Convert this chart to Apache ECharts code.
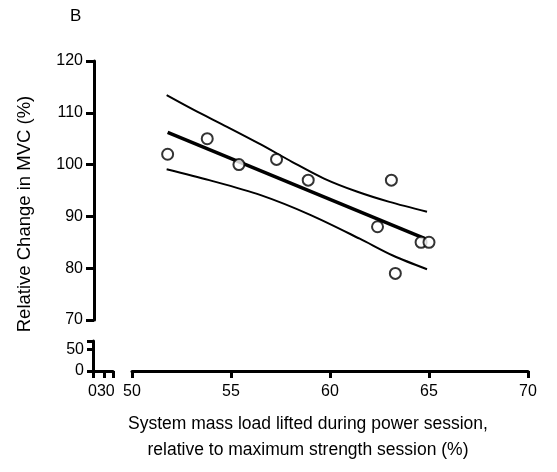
<!DOCTYPE html>
<html>
<head>
<meta charset="utf-8">
<script src="https://cdn.jsdelivr.net/npm/echarts@6/dist/echarts.min.js"></script>
<style>
  html, body { margin: 0; padding: 0; background: #fff; }
  #chart { width: 557px; height: 472px; }
</style>
</head>
<body>
<div id="chart"></div>
<script>
// measured points
const pointX = [51.8, 53.8, 55.4, 57.3, 58.9, 63.1, 62.4, 63.3, 64.6, 65.0];
const pointY = [102, 105, 100, 101, 97, 97, 88, 79, 85, 85];

// regression line and 95% bands
const fitX = [51.8, 64.8];
const fitY = [106.2, 85.7];
const upperX = [51.75, 53.1, 54.8, 56.5, 58.1, 59.7, 61.35, 63.0, 64.9];
const upperY = [113.4, 110.6, 107.3, 103.9, 100.5, 97.3, 94.8, 92.8, 90.9];
const lowerX = [51.75, 53.9, 56.5, 59.0, 61.5, 63.2, 64.9];
const lowerY = [99.1, 97.0, 94.1, 90.3, 85.7, 82.4, 79.8];

// ticks of the short broken-off axis pieces near the origin
const lowXTicks = [0, 30, 53];
const lowYTicks = [0, 50, 70];
const lowYLabels = [0, 50];

const font = "'Liberation Sans', Arial, sans-serif";
const black = "#000";

const zip = (xs, ys) => xs.map((x, i) => [x, ys[i]]);

const chart = echarts.init(document.getElementById("chart"));

const axisCommon = {
  type: "value",
  axisLine: { show: true, onZero: false, lineStyle: { color: black, width: 3 } },
  axisTick: { show: true, length: 7, lineStyle: { color: black, width: 3 } },
  splitLine: { show: false },
  axisLabel: { color: black, fontSize: 16, fontFamily: font, hideOverlap: false },
};

// "0" and "30" sit so close that ECharts drops one of them, so each
// gets its own axis on the small grid
const lowXAxis = (labelValue, withLine, pad) => ({
  ...axisCommon,
  gridIndex: 1,
  position: "bottom",
  min: 0,
  max: 53,
  axisLine: { ...axisCommon.axisLine, show: withLine },
  axisTick: { ...axisCommon.axisTick, show: withLine, customValues: lowXTicks },
  axisLabel: {
    ...axisCommon.axisLabel,
    margin: 13,
    padding: pad,
    customValues: [labelValue],
    showMinLabel: true,
    showMaxLabel: true,
  },
});

chart.setOption({
  animation: false,
  grid: [
    { left: 132, top: 61, width: 396, height: 259 },
    { left: 93, top: 341, width: 20, height: 30 },
  ],
  xAxis: [
    {
      ...axisCommon,
      gridIndex: 0,
      min: 50,
      max: 70,
      interval: 5,
      offset: 51,
      axisLabel: { ...axisCommon.axisLabel, margin: 13 },
    },
    lowXAxis(0, true, [0, 1, 0, 0]),
    lowXAxis(30, false, [0, 0, 0, 3]),
  ],
  yAxis: [
    {
      ...axisCommon,
      gridIndex: 0,
      min: 70,
      max: 120,
      interval: 10,
      offset: 38,
      axisTick: { show: true, length: 8, lineStyle: { color: black, width: 3 } },
      axisLabel: { ...axisCommon.axisLabel, margin: 11 },
    },
    {
      ...axisCommon,
      gridIndex: 1,
      min: 0,
      max: 70,
      axisTick: { show: true, length: 6, lineStyle: { color: black, width: 3 }, customValues: lowYTicks },
      axisLabel: {
        ...axisCommon.axisLabel,
        margin: 9,
        customValues: lowYLabels,
        showMinLabel: true,
        showMaxLabel: true,
      },
    },
  ],
  series: [
    {
      type: "line",
      data: zip(upperX, upperY),
      smooth: 0.3,
      symbol: "none",
      lineStyle: { color: black, width: 2 },
    },
    {
      type: "line",
      data: zip(lowerX, lowerY),
      smooth: 0.3,
      symbol: "none",
      lineStyle: { color: black, width: 2 },
    },
    {
      type: "line",
      data: zip(fitX, fitY),
      symbol: "none",
      lineStyle: { color: black, width: 3.5 },
    },
    {
      type: "scatter",
      data: zip(pointX, pointY),
      symbol: "circle",
      symbolSize: 11,
      itemStyle: { color: "#fff", borderColor: black, borderWidth: 2 },
      z: 5,
    },
  ],
  graphic: [
    {
      type: "text",
      left: 70,
      top: 8,
      style: { text: "B", fontSize: 17, fontFamily: font, fill: black },
    },
    {
      type: "text",
      x: 25,
      y: 214,
      rotation: Math.PI / 2,
      style: {
        text: "Relative Change in MVC (%)",
        fontSize: 18.5,
        fontFamily: font,
        fill: black,
        align: "center",
        verticalAlign: "middle",
      },
    },
    {
      type: "text",
      x: 308,
      y: 437,
      style: {
        text: "System mass load lifted during power session,\nrelative to maximum strength session (%)",
        fontSize: 17.5,
        lineHeight: 26,
        fontFamily: font,
        fill: black,
        align: "center",
        verticalAlign: "middle",
      },
    },
  ],
});

window.addEventListener("resize", () => chart.resize());
</script>
</body>
</html>
